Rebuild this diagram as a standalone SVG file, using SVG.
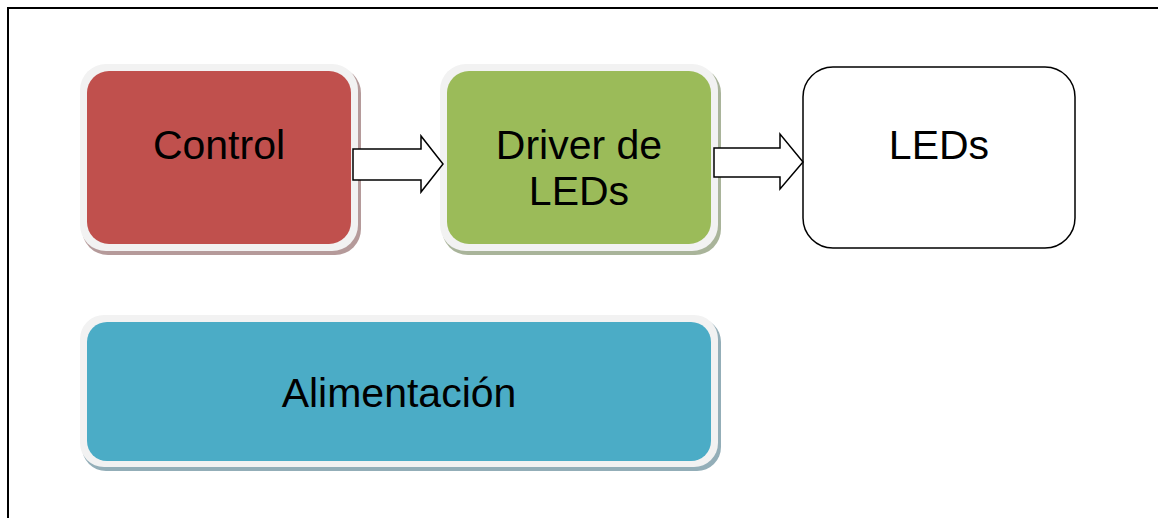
<svg xmlns="http://www.w3.org/2000/svg" width="1158" height="518" viewBox="0 0 1158 518">
  <style>
    .rim { fill: #F2F2F2; }
    .lbl { font-family: "Liberation Sans", Arial, sans-serif; font-size: 41px; fill: #000; text-anchor: middle; }
    .arrow { fill: #FFFFFF; stroke: #000; stroke-width: 1.5; stroke-linejoin: miter; }
  </style>
  <rect x="0" y="0" width="1158" height="518" fill="#FFFFFF"/>
  <path d="M8,518 V8 H1158" fill="none" stroke="#000" stroke-width="2"/>

  <g id="control">
    <rect x="82" y="67" width="279" height="188" rx="26" fill="#B59A9A"/>
    <rect class="rim" x="80" y="64" width="278" height="187" rx="26"/>
    <rect x="87" y="71" width="264" height="173" rx="22" fill="#C0504D"/>
    <text class="lbl" x="219" y="159">Control</text>
  </g>

  <g id="driver">
    <rect x="442" y="67" width="279" height="188" rx="26" fill="#A9B49A"/>
    <rect class="rim" x="440" y="64" width="278" height="187" rx="26"/>
    <rect x="447" y="71" width="264" height="173" rx="22" fill="#9BBB59"/>
    <text class="lbl" x="579" y="159">Driver de</text>
    <text class="lbl" x="579" y="205">LEDs</text>
  </g>

  <g id="leds">
    <rect x="803" y="67" width="272" height="181" rx="30" fill="#FFFFFF" stroke="#000" stroke-width="1.5"/>
    <text class="lbl" x="939" y="159">LEDs</text>
  </g>

  <g id="alimentacion">
    <rect x="82" y="318" width="639" height="153" rx="24" fill="#93AEB8"/>
    <rect class="rim" x="80" y="315" width="638" height="152" rx="24"/>
    <rect x="87" y="322" width="624" height="139" rx="20" fill="#4BACC6"/>
    <text class="lbl" x="399" y="407">Alimentación</text>
  </g>

  <g id="connectors">
    <polygon class="arrow" points="353,149 421,149 421,136 443,164 421,192 421,180 353,180"/>
    <polygon class="arrow" points="714,148 780,148 780,134 803,162 780,189 780,177 714,177"/>
  </g>
</svg>
